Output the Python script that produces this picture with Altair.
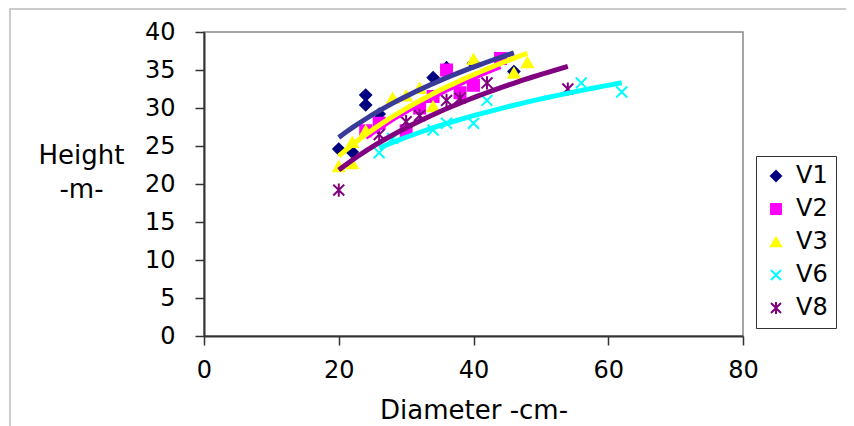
import altair as alt
import pandas as pd

# ---- data ----
series = ["V1", "V2", "V3", "V6", "V8"]

v1_diam = [20, 22, 24, 24, 26, 34, 36, 40, 46]
v1_height = [24.6, 24.2, 31.7, 30.4, 29.2, 34.0, 35.3, 35.9, 34.8]

v2_diam = [24, 26, 30, 32, 34, 36, 38, 40, 44]
v2_height = [27.0, 28.0, 27.0, 30.0, 31.5, 35.0, 32.0, 33.0, 36.5]

v3_diam = [20, 22, 22, 24, 28, 30, 32, 34, 40, 46, 48]
v3_height = [22.3, 22.7, 25.5, 27.0, 31.3, 31.6, 32.6, 30.2, 36.4, 34.6, 36.0]

v6_diam = [26, 28, 34, 36, 40, 42, 56, 62]
v6_height = [24.1, 26.0, 27.1, 28.0, 28.0, 31.0, 33.3, 32.1]

v8_diam = [20, 26, 30, 32, 36, 38, 42, 54]
v8_height = [19.2, 26.5, 28.2, 29.0, 31.0, 31.3, 33.3, 32.5]

x_ticks = [0, 20, 40, 60, 80]
y_ticks = [0, 5, 10, 15, 20, 25, 30, 35, 40]

# ---- styles ----
marker_colors = ["#000080", "#FF00FF", "#FFFF00", "#00FFFF", "#800080"]
line_colors = ["#3A3A99", "#FF00FF", "#FFFF00", "#00FFFF", "#800080"]
shapes = [
    "diamond",
    "square",
    "triangle-up",
    "M-1,-1L1,1M-1,1L1,-1",
    "M-1,-1L1,1M-1,1L1,-1M0,-1.2L0,1.2",
]

rows = []
for name, ds, hs in zip(
    series,
    [v1_diam, v2_diam, v3_diam, v6_diam, v8_diam],
    [v1_height, v2_height, v3_height, v6_height, v8_height],
):
    for d, h in zip(ds, hs):
        rows.append({"series": name, "diam": d, "height": h})
df = pd.DataFrame(rows)

font = "DejaVu Sans"

x_enc = alt.X(
    "diam:Q",
    scale=alt.Scale(domain=[0, 80], nice=False, zero=False),
    axis=alt.Axis(
        values=x_ticks,
        title="Diameter -cm-",
        titleY=82,
        titleBaseline="alphabetic",
        labelPadding=13,
        labelFlush=False,
        labelOverlap=False,
    ),
)
y_enc = alt.Y(
    "height:Q",
    scale=alt.Scale(domain=[0, 40], nice=False),
    axis=alt.Axis(
        values=y_ticks,
        title=["Height", "-m-"],
        titleAngle=0,
        titleX=-123,
        titleY=131,
        titleAlign="center",
        titleBaseline="alphabetic",
        titleLineHeight=34,
        labelPadding=20,
        labelFlush=False,
        labelOverlap=False,
    ),
)

legend = alt.Legend(
    title=None,
    orient="none",
    legendX=552,
    legendY=124,
    strokeColor="#333333",
    fillColor="white",
    padding=8,
    rowPadding=9,
    labelOffset=8,
    labelFont=font,
    labelFontSize=24,
    labelColor="black",
    symbolSize=100,
    symbolStrokeWidth=2,
)

frame = alt.Chart(pd.DataFrame({"k": [0]})).mark_rect(
    filled=False, stroke="#BBBBBB", strokeWidth=1.5
).encode(
    x=alt.value(-194), x2=alt.value(648), y=alt.value(-23), y2=alt.value(398)
)

points = alt.Chart(df).mark_point(size=120, strokeWidth=2, opacity=1).encode(
    x=x_enc,
    y=y_enc,
    color=alt.Color("series:N", scale=alt.Scale(domain=series, range=marker_colors), legend=legend),
    fill=alt.Fill("series:N", scale=alt.Scale(domain=series, range=marker_colors), legend=legend),
    shape=alt.Shape("series:N", scale=alt.Scale(domain=series, range=shapes), legend=legend),
)

lines = alt.Chart(df).transform_regression(
    "diam", "height", groupby=["series"], method="log"
).mark_line(strokeWidth=5).encode(
    x=x_enc,
    y=y_enc,
    stroke=alt.Stroke("series:N", scale=alt.Scale(domain=series, range=line_colors), legend=None),
)

chart = alt.layer(frame, points, lines).properties(
    width=539,
    height=304,
    padding={"left": 196, "top": 24, "right": 103, "bottom": 90},
    autosize=alt.AutoSizeParams(type="none"),
    background="white",
).configure_view(
    stroke="#888888", strokeWidth=1.5
).configure_axis(
    grid=False,
    domainColor="#333333",
    domainWidth=2,
    tickColor="#333333",
    tickWidth=1.5,
    tickSize=9,
    labelFont=font,
    labelFontSize=24,
    labelColor="black",
    titleFont=font,
    titleFontSize=26,
    titleFontWeight="normal",
    titleColor="black",
)

chart.save("out.html", embed_options={"renderer": "svg", "actions": False})
